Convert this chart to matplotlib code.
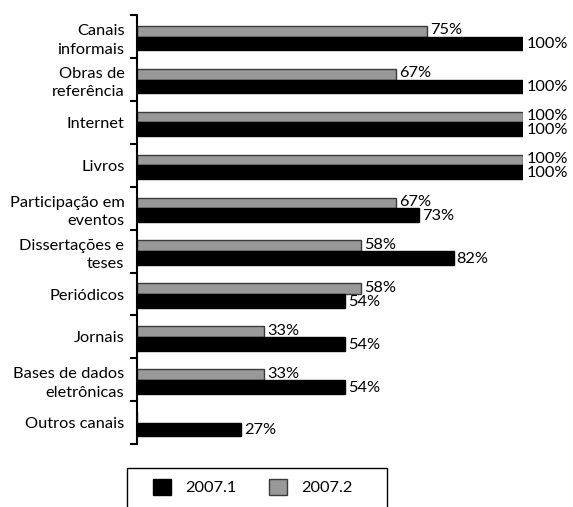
import numpy as np
import matplotlib
matplotlib.use("Agg")
import matplotlib.pyplot as plt
from matplotlib.patches import Patch, Rectangle

plt.rcParams['font.family'] = ['Lato', 'DejaVu Sans']

## dados
categorias = ["Canais\ninformais", "Obras de\nreferência", "Internet", "Livros",
              "Participação em\neventos", "Dissertações e\nteses", "Periódicos",
              "Jornais", "Bases de dados\neletrônicas", "Outros canais"]
v2007_1 = [100, 100, 100, 100, 73, 82, 54, 54, 54, 27]
v2007_2 = [75, 67, 100, 100, 67, 58, 58, 33, 33, 0]

fig = plt.figure(figsize=(5.73, 5.07), dpi=100)
ax = fig.add_axes([0.239, 0.124, 0.674, 0.846])

y = np.arange(len(categorias))
h2 = 0.25   # barra cinza
h1 = 0.32   # barra preta
ax.barh(y - h2 / 2, v2007_2, height=h2, color="#999999", edgecolor="#3a3a3a", linewidth=1)
ax.barh(y + h1 / 2, v2007_1, height=h1, color="black", edgecolor="black", linewidth=1)

fs = 11.8
for i in range(len(categorias)):
    if v2007_2[i] > 0:
        ax.text(v2007_2[i] + 0.8, y[i] - h2 / 2 - 0.02, f"{v2007_2[i]}%",
                va="center", ha="left", fontsize=fs)
    ax.text(v2007_1[i] + 0.8, y[i] + h1 / 2 + 0.02, f"{v2007_1[i]}%",
            va="center", ha="left", fontsize=fs)

ax.set_xlim(0, 100)
ax.set_ylim(len(categorias) - 0.5, -0.5)
ax.set_yticks(y)
ax.set_yticklabels(categorias, fontsize=fs, linespacing=1.4, ha="right")
ax.set_yticks(np.arange(-0.5, len(categorias)), minor=True)
ax.tick_params(axis="y", which="major", length=0, pad=9)
ax.tick_params(axis="y", which="minor", length=5, width=1.5, direction="out")
ax.set_xticks([])
for s in ["top", "right", "bottom"]:
    ax.spines[s].set_visible(False)
ax.spines["left"].set_linewidth(1.5)

## legenda com moldura desenhada à parte
fig.patches.append(Rectangle((127 / 573, -0.05), 260 / 573, 0.05 + 1 - 468 / 507,
                             transform=fig.transFigure, facecolor="none",
                             edgecolor="black", linewidth=1))
handles = [Patch(facecolor="black", edgecolor="black", label="2007.1"),
           Patch(facecolor="#999999", edgecolor="#3a3a3a", label="2007.2")]
leg = fig.legend(handles=handles, ncol=2, loc="center left",
                 bbox_to_anchor=(153 / 573, 1 - 487 / 507),
                 frameon=False, fontsize=fs,
                 handlelength=1.1, handleheight=1.1, handletextpad=0.85,
                 columnspacing=2.0, borderpad=0, borderaxespad=0)

fig.savefig("out.png", dpi=100)
